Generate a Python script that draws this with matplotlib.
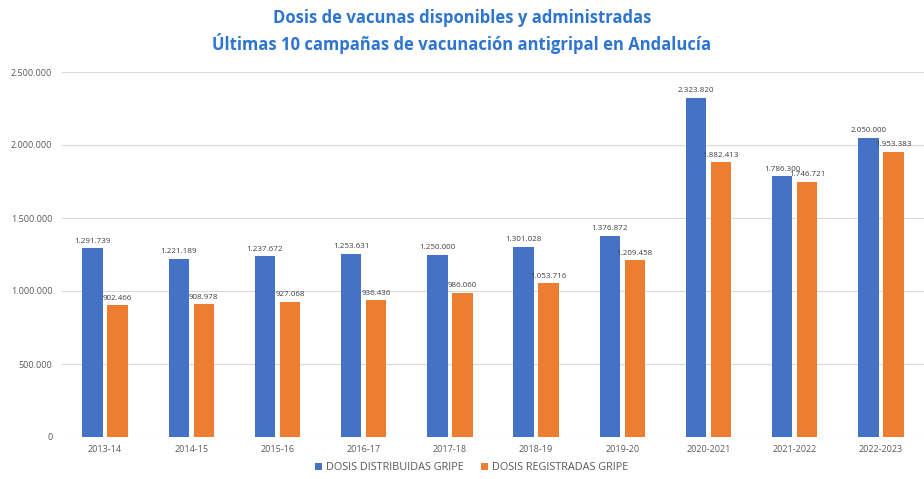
import matplotlib
import matplotlib.pyplot as plt
import numpy as np
from matplotlib.ticker import FuncFormatter

matplotlib.rcParams["font.family"] = ["Open Sans", "DejaVu Sans"]

campanas = ["2013-14", "2014-15", "2015-16", "2016-17", "2017-18",
            "2018-19", "2019-20", "2020-2021", "2021-2022", "2022-2023"]
distribuidas = [1291739, 1221189, 1237672, 1253631, 1250000,
                1301028, 1376872, 2323820, 1786300, 2050000]
registradas = [902466, 908978, 927068, 936436, 986060,
               1053716, 1209458, 1882413, 1746721, 1953383]

AZUL = "#4472C4"
NARANJA = "#ED7D31"


def miles(v, pos=None):
    return f"{int(v):,}".replace(",", ".")


fig = plt.figure(figsize=(9.24, 4.79), dpi=100)
fig.patch.set_facecolor("white")
ax = fig.add_axes([62 / 924, 1 - 437 / 479, (924 - 62) / 924, (437 - 72) / 479])

x = np.arange(len(campanas))
w = 0.235
off = 0.145
b1 = ax.bar(x - off, distribuidas, w, color=AZUL, label="DOSIS DISTRIBUIDAS GRIPE", zorder=2)
b2 = ax.bar(x + off, registradas, w, color=NARANJA, label="DOSIS REGISTRADAS GRIPE", zorder=2)

# etiquetas de datos encima de cada barra
for bars in (b1, b2):
    for r in bars:
        ax.text(r.get_x() + r.get_width() / 2, r.get_height() + 25000, miles(r.get_height()),
                ha="center", va="bottom", fontsize=5.8, color="#404040", clip_on=False)

ax.set_xlim(-0.5, len(campanas) - 0.5)
ax.set_ylim(0, 2500000)
ax.set_yticks(np.arange(0, 2500001, 500000))
ax.yaxis.set_major_formatter(FuncFormatter(miles))
ax.set_xticks(x)
ax.set_xticklabels(campanas)
ax.tick_params(axis="both", length=0, labelsize=6.5, colors="#595959")
ax.tick_params(axis="y", pad=7)
ax.tick_params(axis="x", pad=6)
ax.grid(axis="y", color="#d9d9d9", linewidth=0.8, zorder=0)
for s in ax.spines.values():
    s.set_visible(False)

fig.text(0.5, 1 - 18 / 479, "Dosis de vacunas disponibles y administradas",
         ha="center", va="center", fontsize=12, fontweight="bold", color="#2E75D0")
fig.text(0.5, 1 - 43 / 479, "Últimas 10 campañas de vacunación antigripal en Andalucía",
         ha="center", va="center", fontsize=12, fontweight="bold", color="#2E75D0")

fig.legend(loc="center", bbox_to_anchor=(472 / 924, 1 - 468 / 479), ncol=2, frameon=False,
           fontsize=7.8, handlelength=0.6, handleheight=0.6, columnspacing=1.6,
           labelcolor="#595959", handletextpad=0.4)

plt.savefig("out.png", dpi=100, facecolor="white")
